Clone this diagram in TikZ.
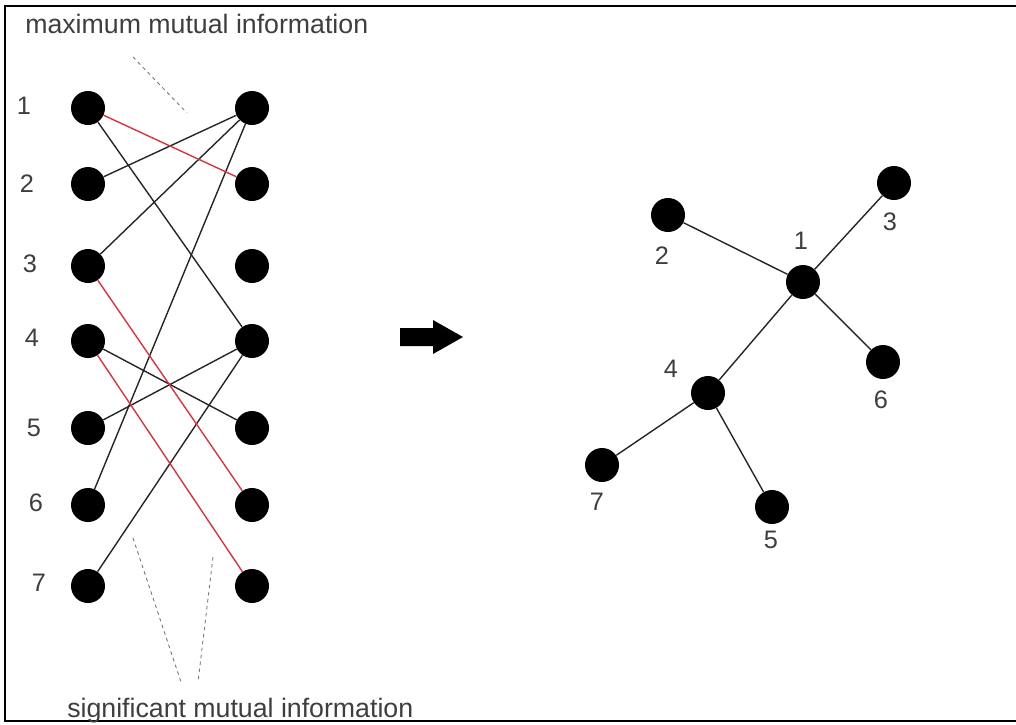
\documentclass[tikz,border=0pt]{standalone}
\usepackage{fontspec}
\setmainfont{Liberation Sans}
\usepackage{tikz}
\definecolor{mired}{RGB}{214,52,66}
\definecolor{txtgray}{RGB}{62,62,62}
\tikzset{dot/.style={inner sep=0pt, fill=black, circle, minimum size=8.5mm},
  num/.style={text=txtgray, font=\fontsize{18}{21}\selectfont},
  caption/.style={text=txtgray, anchor=base west, inner sep=0pt, font=\fontsize{19}{22}\selectfont},
  link/.style={line width=1pt, draw=black!85},
  sig/.style={line width=1pt, draw=mired},
  hint/.style={draw=black!55, line width=0.6pt, dash pattern=on 2.5pt off 2.5pt}}

\begin{document}
\begin{tikzpicture}[x=0.25mm, y=-0.25mm]
  \useasboundingbox (0,0) rectangle (1016,724);
  \draw[line width=1.4pt] (1020,6) -- (5,6) -- (5,721) -- (1020,721);

  % two columns of variables
  \node [dot] (l1) at (88,108) {};
  \node [dot] (l2) at (88,184) {};
  \node [dot] (l3) at (88,266) {};
  \node [dot] (l4) at (88,341) {};
  \node [dot] (l5) at (88,428) {};
  \node [dot] (l6) at (88,505) {};
  \node [dot] (l7) at (88,586) {};
  \node [dot] (r1) at (252,108) {};
  \node [dot] (r2) at (252,184) {};
  \node [dot] (r3) at (252,266) {};
  \node [dot] (r4) at (252,341) {};
  \node [dot] (r5) at (252,428) {};
  \node [dot] (r6) at (252,505) {};
  \node [dot] (r7) at (252,586) {};
  \node [num] (n1) at (24,106) {1};
  \node [num] (n2) at (27,184) {2};
  \node [num] (n3) at (30,264) {3};
  \node [num] (n4) at (32,338) {4};
  \node [num] (n5) at (34,428) {5};
  \node [num] (n6) at (36,503) {6};
  \node [num] (n7) at (39,583) {7};

  \draw [link] (l1) -- (r4);
  \draw [link] (l2) -- (r1);
  \draw [link] (l3) -- (r1);
  \draw [link] (l6) -- (r1);
  \draw [link] (l4) -- (r5);
  \draw [link] (l5) -- (r4);
  \draw [link] (l7) -- (r4);
  \draw [sig] (l1) -- (r2);
  \draw [sig] (l3) -- (r6);
  \draw [sig] (l4) -- (r7);

  \node [caption] (maxmi) at (25,33) {maximum mutual information};
  \node [caption] (sigmi) at (67,717) {significant mutual information};
  \coordinate (m0) at (133,57);
  \coordinate (m1) at (187,113);
  \coordinate (s0) at (133,538);
  \coordinate (s1) at (181,682);
  \coordinate (s2) at (213,557);
  \coordinate (s3) at (198,682);
  \draw [hint] (m0) -- (m1);
  \draw [hint] (s0) -- (s1);
  \draw [hint] (s2) -- (s3);

  % arrow
  \fill [black] (400,328) -- (433,328) -- (433,320) -- (463,337) -- (433,354)
    -- (433,346) -- (400,346) -- cycle;

  % resulting tree
  \node [dot] (t1) at (803,282) {};
  \node [dot] (t2) at (668,215) {};
  \node [dot] (t3) at (894,183) {};
  \node [dot] (t4) at (708,393) {};
  \node [dot] (t5) at (772,507) {};
  \node [dot] (t6) at (883,362) {};
  \node [dot] (t7) at (602,465) {};
  \node [num] (k1) at (801,241) {1};
  \node [num] (k2) at (662,256) {2};
  \node [num] (k3) at (890,222) {3};
  \node [num] (k4) at (671,369) {4};
  \node [num] (k5) at (771,540) {5};
  \node [num] (k6) at (881,400) {6};
  \node [num] (k7) at (597,502) {7};
  \draw [link] (t1) -- (t2);
  \draw [link] (t1) -- (t3);
  \draw [link] (t1) -- (t6);
  \draw [link] (t1) -- (t4);
  \draw [link] (t4) -- (t7);
  \draw [link] (t4) -- (t5);
\end{tikzpicture}
\end{document}
